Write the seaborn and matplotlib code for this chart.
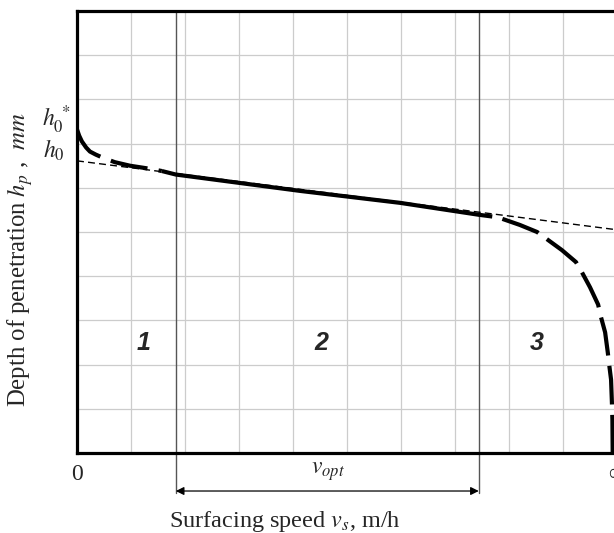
import matplotlib
matplotlib.use("Agg")
import matplotlib.pyplot as plt
import seaborn as sns
import pandas as pd

# ---------------- data ----------------
grid_x = list(range(0, 11))
grid_y = list(range(0, 11))
x_tick_labels = ["0"] + [""] * 9 + ["\u221e"]

zone_bounds = [1.83, 7.44]          # borders of zones 1|2 and 2|3
zone_names = ["1", "2", "3"]
zone_label_x = [1.24, 4.52, 8.52]
zone_label_y = [2.5, 2.5, 2.5]

h0_value = 6.61
h0_star_value = 7.32

asym_x = [0.0, 10.0]
asym_y = [6.61, 5.05]

zone1_x = [0.00, 0.04, 0.09, 0.17, 0.24, 0.35, 0.48, 0.70, 0.98, 1.35, 1.57]
zone1_y = [7.32, 7.18, 7.05, 6.91, 6.82, 6.75, 6.68, 6.58, 6.50, 6.43, 6.38]

zone2_x = [1.57, 1.83, 4.13, 5.98, 7.44, 7.69]
zone2_y = [6.38, 6.30, 5.93, 5.66, 5.39, 5.35]

zone3_x = [7.69, 7.87, 8.20, 8.52, 8.70, 8.98, 9.24, 9.35, 9.50, 9.65, 9.70,
           9.78, 9.83, 9.85, 9.89, 9.905, 9.915, 9.92]
zone3_y = [5.35, 5.30, 5.16, 5.00, 4.84, 4.59, 4.32, 4.09, 3.75, 3.36, 3.09,
           2.73, 2.27, 2.05, 1.66, 1.16, 0.75, 0.0]

# ---------------- style ----------------
sns.set_style("white")
plt.rcParams["font.family"] = ["Liberation Serif", "DejaVu Serif"]
plt.rcParams["mathtext.fontset"] = "stix"

fig = plt.figure(figsize=(6.14, 5.33), dpi=100)
ax = fig.add_axes([77 / 614, 80 / 533, 540 / 614, 442 / 533])

ax.set_xlim(0, 10)
ax.set_ylim(0, 10)
ax.set_xticks(grid_x)
ax.set_xticklabels(x_tick_labels, fontsize=17)
ax.set_yticks(grid_y)
ax.set_yticklabels([])
ax.tick_params(axis="both", length=0)
ax.tick_params(axis="x", pad=8)
ax.grid(True, color="#cccccc", linewidth=0.9)
ax.set_axisbelow(True)

for side in ["left", "top", "bottom"]:
    ax.spines[side].set_visible(True)
    ax.spines[side].set_color("black")
    ax.spines[side].set_linewidth(2.3)
ax.spines["right"].set_visible(False)

# zone borders, extended below the axis
for xb in zone_bounds:
    ax.plot([xb, xb], [-0.9, 10], color="#555555", linewidth=1.0,
            clip_on=False, zorder=2)

# asymptote (thin dashed)
sns.lineplot(x=asym_x, y=asym_y, ax=ax, color="black", linewidth=1.0,
             linestyle=(0, (5, 3)), estimator=None, sort=False, zorder=3)

# curve: zone 1 dashed, zone 2 solid, zone 3 dashed
df1 = pd.DataFrame({"x": zone1_x, "y": zone1_y})
df2 = pd.DataFrame({"x": zone2_x, "y": zone2_y})
df3 = pd.DataFrame({"x": zone3_x, "y": zone3_y})
sns.lineplot(data=df1, x="x", y="y", ax=ax, color="black", linewidth=3.0,
             linestyle=(0, (9.0, 2.7)), estimator=None, sort=False, zorder=4,
             dash_capstyle="butt")
sns.lineplot(data=df2, x="x", y="y", ax=ax, color="black", linewidth=3.0,
             estimator=None, sort=False, zorder=4, solid_capstyle="butt")
sns.lineplot(data=df3, x="x", y="y", ax=ax, color="black", linewidth=3.0,
             linestyle=(9.3, (9.3, 2.5)), estimator=None, sort=False, zorder=4,
             dash_capstyle="butt")

ax.set_xlabel("")
ax.set_ylabel("")

# zone numbers
for name, zx, zy in zip(zone_names, zone_label_x, zone_label_y):
    ax.text(zx, zy, name, fontsize=18, fontweight="bold", fontstyle="italic",
            family="Liberation Sans", ha="center", va="center")

# h0 labels
ax.text(-0.22, 6.68, r"$h_0$", fontsize=17, ha="right", va="baseline",
        clip_on=False)
ax.text(-0.12, 7.39, r"$h_0^{\,*}$", fontsize=17, ha="right",
        va="baseline", clip_on=False)

# v_opt dimension arrow
ax.annotate("", xy=(zone_bounds[0], -0.86), xytext=(zone_bounds[1], -0.86),
            xycoords="data", textcoords="data", annotation_clip=False,
            arrowprops=dict(arrowstyle="<|-|>", color="black", lw=0.9,
                            mutation_scale=12, shrinkA=0, shrinkB=0))
ax.text(4.65, -0.43, r"$v_{opt}$", fontsize=17, ha="center", va="center",
        clip_on=False)

# axis titles
fig.text(285 / 614, (533 - 521) / 533, r"Surfacing speed $v_s$, m/h",
         fontsize=17.5, ha="center", va="center")
fig.text(20 / 614, (533 - 259) / 533, r"Depth of penetration $h_p$ ,  $mm$",
         fontsize=17.8, ha="center", va="center", rotation=90)

fig.savefig("out.png", dpi=100)
